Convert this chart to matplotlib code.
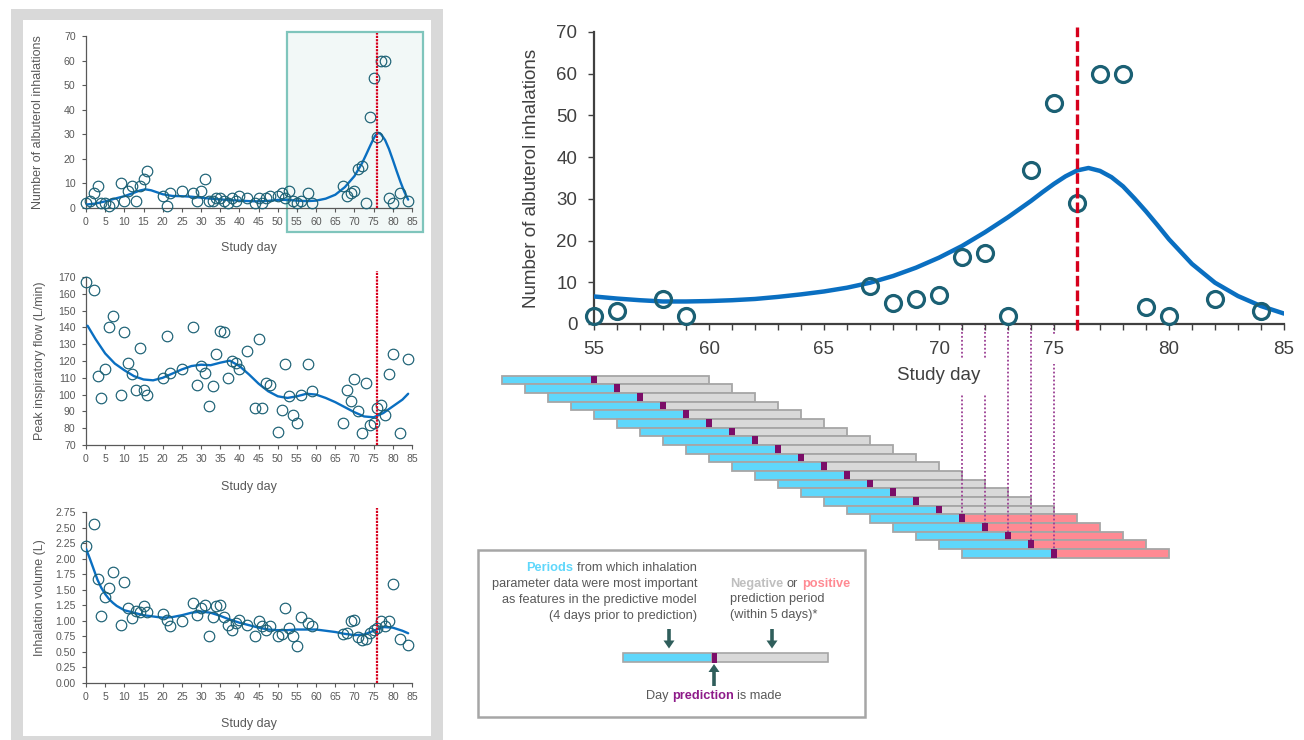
import numpy as np
import matplotlib
matplotlib.use("Agg")
import matplotlib.pyplot as plt
from matplotlib.patches import Rectangle, FancyArrow
from matplotlib.offsetbox import TextArea, HPacker, AnnotationBbox
from matplotlib.ticker import MultipleLocator, FormatStrFormatter

plt.rcParams['font.family'] = ['Liberation Sans', 'DejaVu Sans']

# ---------------- data ----------------
alb_days = [0, 1, 2, 3, 4, 5, 6, 7, 9, 10, 11, 12, 13, 14, 15, 16, 20, 21, 22, 25,
            28, 29, 30, 31, 32, 33, 34, 35, 36, 37, 38, 39, 40, 42, 44, 45, 46, 47, 48,
            50, 51, 52, 53, 54, 55, 56, 58, 59, 67, 68, 69, 70, 71, 72, 73, 74, 75, 76,
            77, 78, 79, 80, 82, 84]
alb_vals = [2, 3, 6, 9, 2, 2, 1, 2, 10, 3, 7, 9, 3, 9, 12, 15, 5, 1, 6, 7,
            6, 3, 7, 12, 3, 3, 4, 4, 3, 2, 4, 3, 5, 4, 2, 4, 2, 4, 5,
            5, 6, 4, 7, 3, 2, 3, 6, 2, 9, 5, 6, 7, 16, 17, 2, 37, 53, 29,
            60, 60, 4, 2, 6, 3]
alb_trend_days = [0, 2.5, 5, 7.5, 10, 12.5, 14, 15.5, 17, 18.5, 20, 22.5, 25, 27.5, 30,
                  32.5, 35, 37.5, 40, 42.5, 45, 47.5, 50, 52.5, 55, 57.5, 60, 62.5, 65,
                  67.5, 70, 72, 73, 74, 75, 75.5, 76, 76.5, 77, 78, 79, 80, 81, 82, 83, 84]
alb_trend_vals = [1.4, 1.8, 2.7, 3.8, 4.8, 6.2, 7.1, 7.6, 7.2, 6.4, 5.6, 4.9, 4.8, 4.6,
                  4.2, 3.8, 3.5, 3.2, 3.0, 2.8, 2.7, 2.9, 3.3, 3.3, 3.0, 2.8, 3.0, 3.8,
                  5.4, 8.5, 13.0, 18.3, 21.6, 25.0, 28.3, 29.6, 30.4, 30.5, 29.9, 27.6,
                  24.0, 19.6, 15.0, 10.6, 6.6, 3.4]

pif_days = [0, 2, 3, 4, 5, 6, 7, 9, 10, 11, 12, 13, 14, 15, 16, 20, 21, 22, 25,
            28, 29, 30, 31, 32, 33, 34, 35, 36, 37, 38, 39, 40, 42, 44, 45, 46, 47, 48,
            50, 51, 52, 53, 54, 55, 56, 58, 59, 67, 68, 69, 70, 71, 72, 73, 74, 75, 76,
            77, 78, 79, 80, 82, 84]
pif_vals = [167, 162, 111, 98, 115, 140, 147, 100, 137, 119, 112, 103, 128, 103, 100,
            110, 135, 113, 115, 140, 106, 117, 113, 93, 105, 124, 138, 137, 110, 120, 119,
            115, 126, 92, 133, 92, 107, 106, 78, 91, 118, 99, 88, 83, 100, 118, 102,
            83, 103, 96, 109, 90, 77, 107, 82, 83, 92, 94, 88, 112, 124, 77, 121]
pif_trend_days = [0.4, 2.5, 5, 7.5, 10, 12.5, 15, 17.5, 20, 22.5, 25, 27.5, 30, 32.5, 35,
                  37.5, 40, 42.5, 45, 47.5, 50, 52.5, 55, 57.5, 60, 62.5, 65, 67.5, 70,
                  72.5, 75, 77.5, 80, 82.5, 84]
pif_trend_vals = [141, 133, 124.5, 118.5, 114.5, 111, 109, 108.5, 110, 112.5, 115, 117,
                  117.8, 117.5, 119, 120.2, 117, 112, 106.5, 102, 99, 98, 99, 100.5, 100,
                  98, 95.5, 92.5, 89.5, 87, 86.5, 89, 93, 97, 100.5]

vol_days = pif_days
vol_vals = [2.20, 2.55, 1.68, 1.08, 1.38, 1.53, 1.78, 0.93, 1.63, 1.20, 1.04, 1.16, 1.14,
            1.24, 1.14, 1.11, 1.01, 0.91, 0.99, 1.29, 1.09, 1.21, 1.26, 0.76, 1.06, 1.24,
            1.26, 1.06, 0.94, 0.86, 0.97, 1.01, 0.94, 0.76, 0.99, 0.91, 0.86, 0.91, 0.76,
            0.78, 1.21, 0.89, 0.76, 0.59, 1.06, 0.97, 0.91, 0.79, 0.81, 0.99, 1.01, 0.74,
            0.69, 0.71, 0.81, 0.86, 0.89, 0.99, 0.91, 0.99, 1.59, 0.71, 0.61]
vol_trend_days = [0, 1, 2, 3, 4, 5, 6, 7, 8, 10, 12.5, 15, 17.5, 20, 22.5, 25, 27.5, 30,
                  32.5, 35, 37.5, 40, 42.5, 45, 47.5, 50, 52.5, 55, 57.5, 60, 62.5, 65,
                  67.5, 70, 72.5, 75, 77.5, 80, 82.5, 84]
vol_trend_vals = [2.16, 2.00, 1.83, 1.66, 1.53, 1.43, 1.35, 1.29, 1.24, 1.17, 1.13, 1.09,
                  1.07, 1.05, 1.06, 1.09, 1.13, 1.15, 1.13, 1.08, 1.02, 0.97, 0.93, 0.89,
                  0.86, 0.85, 0.85, 0.86, 0.86, 0.86, 0.84, 0.82, 0.79, 0.77, 0.78, 0.84,
                  0.90, 0.89, 0.84, 0.80]

zoom_trend_days = [55, 56, 57, 58, 59, 60, 61, 62, 63, 64, 65, 66, 67, 68, 69, 70, 71, 72,
                   73, 74, 74.5, 75, 75.5, 76, 76.5, 77, 77.5, 78, 78.5, 79, 79.5, 80,
                   81, 82, 83, 84, 85]
zoom_trend_vals = [6.6, 6.1, 5.7, 5.4, 5.4, 5.5, 5.7, 6.0, 6.5, 7.1, 7.8, 8.7, 9.9, 11.5,
                   13.5, 15.9, 18.7, 22.0, 25.6, 29.5, 31.6, 33.6, 35.4, 36.8, 37.4, 36.7,
                   35.2, 33.0, 30.1, 27.0, 23.7, 20.3, 14.4, 9.9, 6.7, 4.3, 2.5]

event_day = 76
zoom_start = 55
pred_days = list(range(55, 76))
pred_outcome = ['negative'] * 16 + ['positive'] * 5
lookback_days = 4
horizon_days = 5

# ---------------- style ----------------
W, H = 1304, 740
CIRC = '#1b6074'
TREND = '#0a6fc1'
RED = '#d6001c'
CYAN = '#5fd7fb'
LGRAY = '#d9d9d9'
PINK = '#ff8a93'
PURPLE = '#7b0e68'
EDGE = '#a6a6a6'
TXT = '#595959'
DARK = '#404040'
ARROW = '#2f5e5b'

fig = plt.figure(figsize=(W / 100, H / 100), dpi=100, facecolor='white')


def px_axes(x0, y0, x1, y1, **kw):
    return fig.add_axes([x0 / W, 1 - y1 / H, (x1 - x0) / W, (y1 - y0) / H], **kw)


# background / overlay axes in pixel units
ax_bg = fig.add_axes([0, 0, 1, 1], zorder=-1)
ax_bg.set_xlim(0, W)
ax_bg.set_ylim(H, 0)
ax_bg.axis('off')
ax_bg.add_patch(Rectangle((11, 9), 432, 735, facecolor='#d9d9d9', edgecolor='none'))
ax_bg.add_patch(Rectangle((23, 20), 408, 716, facecolor='white', edgecolor='none'))


# ---------------- small panels ----------------
def small_panel(top, bot, ylim, ystep, yfmt, ylabel, days, vals, tdays, tvals,
                red_top, xlab_y, ylab_x):
    ax = px_axes(86, top, 412, bot)
    ax.set_xlim(0, 85)
    ax.set_ylim(*ylim)
    ax.xaxis.set_major_locator(MultipleLocator(5))
    ax.yaxis.set_major_locator(MultipleLocator(ystep))
    ax.yaxis.set_major_formatter(FormatStrFormatter(yfmt))
    for s in ['top', 'right']:
        ax.spines[s].set_visible(False)
    for s in ['left', 'bottom']:
        ax.spines[s].set_color(TXT)
        ax.spines[s].set_linewidth(0.9)
    ax.tick_params(direction='out', length=3, width=0.8, color=TXT, labelcolor=TXT,
                   labelsize=7.6)
    ax.tick_params(axis='x', pad=3.5)
    ax.tick_params(axis='y', pad=4.5)
    ax.plot(tdays, tvals, color=TREND, lw=1.7, zorder=3, solid_capstyle='round',
            solid_joinstyle='round')
    ax.plot(days, vals, 'o', mfc='none', mec=CIRC, ms=7.6, mew=0.85, zorder=4,
            clip_on=False)
    ax.plot([event_day, event_day], [ylim[0], red_top], color=RED, lw=1.6,
            ls=(0, (1, 0.5)), zorder=5, clip_on=False)
    ax.set_xlabel('Study day', fontsize=9, color=TXT)
    ax.set_ylabel(ylabel, fontsize=9, color=TXT)
    ax.xaxis.label.set_va('center')
    ax.yaxis.label.set_va('center')
    ax.yaxis.label.set_ha('center')
    h = bot - top
    ax.xaxis.set_label_coords(0.5, (bot - xlab_y) / h)
    ax.yaxis.set_label_coords((ylab_x - 86) / 326, 0.5)
    return ax


ax1 = small_panel(36, 208, (0, 70), 10, '%d', 'Number of albuterol inhalations',
                  alb_days, alb_vals, alb_trend_days, alb_trend_vals, 71.2, 248, 38)
ax1.add_patch(Rectangle((52.4, -9.8), 35.5, 81.4, facecolor='#f2f8f7',
                        edgecolor='#7fc5bc', lw=1.6, clip_on=False, zorder=0.5))

ax2 = small_panel(277, 445, (70, 170), 10, '%d', 'Peak inspiratory flow (L/min)',
                  pif_days, pif_vals, pif_trend_days, pif_trend_vals, 173.5, 487, 40)
ax3 = small_panel(512, 683, (0, 2.75), 0.25, '%.2f', 'Inhalation volume (L)',
                  vol_days, vol_vals, vol_trend_days, vol_trend_vals, 2.81, 724, 40)

# ---------------- main zoomed panel ----------------
M_L, M_R, M_T, M_B = 594, 1284, 32, 324
axm = px_axes(M_L, M_T, M_R, M_B, zorder=3)
axm.set_xlim(55, 85)
axm.set_ylim(0, 70)
axm.xaxis.set_major_locator(MultipleLocator(5))
axm.xaxis.set_minor_locator(MultipleLocator(1))
axm.yaxis.set_major_locator(MultipleLocator(10))
for s in ['top', 'right']:
    axm.spines[s].set_visible(False)
for s in ['left', 'bottom']:
    axm.spines[s].set_color(DARK)
    axm.spines[s].set_linewidth(1.6)
axm.tick_params(which='both', direction='out', length=4, width=1.0, color=DARK,
                labelcolor=DARK, labelsize=13.5)
axm.tick_params(axis='x', pad=8)
axm.tick_params(axis='y', pad=8)

zd = [d for d in alb_days if d >= zoom_start]
zv = [v for d, v in zip(alb_days, alb_vals) if d >= zoom_start]
axm.plot(zoom_trend_days, zoom_trend_vals, color=TREND, lw=3.2, zorder=3,
         solid_capstyle='round', solid_joinstyle='round')
axm.plot(zd, zv, 'o', mfc='none', mec=CIRC, ms=11.5, mew=2.3, zorder=4, clip_on=False)
axm.plot([event_day, event_day], [-1.4, 71.3], color=RED, lw=2.4, ls=(0, (3.2, 1.2)),
         zorder=5, clip_on=False)
axm.set_xlabel('Study day', fontsize=13.5, color=DARK,
               bbox=dict(facecolor='white', edgecolor='none', boxstyle='square,pad=0.5'))
axm.set_ylabel('Number of albuterol inhalations', fontsize=13.5, color=DARK)
axm.xaxis.label.set_va('center')
axm.yaxis.label.set_va('center')
axm.yaxis.label.set_ha('center')
axm.xaxis.set_label_coords(0.5, (M_B - 376) / (M_B - M_T))
axm.yaxis.set_label_coords((531 - M_L) / (M_R - M_L), 0.5)
for lbl in axm.get_xticklabels():
    lbl.set_bbox(dict(facecolor='white', edgecolor='none', boxstyle='square,pad=0.35'))

# ---------------- prediction window bars ----------------
px_per_day = (M_R - M_L) / 30.0
ROW0, ROWH = 380.0, 8.667
B_L, B_R, B_T, B_B = 490, 1180, 370, 562
axb = px_axes(B_L, B_T, B_R, B_B, zorder=2)
axb.patch.set_visible(False)
axb.axis('off')
axb.set_xlim(55 + (B_L - M_L) / px_per_day, 55 + (B_R - M_L) / px_per_day)
axb.set_ylim((B_B - ROW0) / ROWH, (B_T - ROW0) / ROWH)

for i, (d, outc) in enumerate(zip(pred_days, pred_outcome)):
    axb.barh(i, lookback_days, left=d - lookback_days, height=1.0, color=CYAN,
             edgecolor=EDGE, lw=1.3, zorder=2 + i * 0.01)
    axb.barh(i, horizon_days, left=d, height=1.0,
             color=PINK if outc == 'positive' else LGRAY,
             edgecolor=EDGE, lw=1.3, zorder=2 + i * 0.01)
    axb.barh(i, 0.22, left=d - 0.11, height=1.0, color=PURPLE, lw=0,
             zorder=2.005 + i * 0.01)

axis_y = (M_B - ROW0) / ROWH
for i, (d, outc) in enumerate(zip(pred_days, pred_outcome)):
    if outc == 'positive':
        axb.plot([d, d], [axis_y, i - 0.5], color='#9b3f93', lw=1.3,
                 ls=(0, (1, 1.2)), clip_on=False, zorder=5)

# ---------------- legend box ----------------
ax_bg.add_patch(Rectangle((478, 550), 387, 167, facecolor='white', edgecolor=EDGE, lw=1.8))
FS = 9.2


def color_line(parts, xy, align):
    boxes = [TextArea(t, textprops=dict(color=c, fontsize=FS, fontweight=w))
             for t, c, w in parts]
    pack = HPacker(children=boxes, align='baseline', pad=0, sep=2.6)
    ab = AnnotationBbox(pack, xy, xycoords='data', box_alignment=align,
                        frameon=False, pad=0)
    ax_bg.add_artist(ab)


color_line([('Periods', CYAN, 'bold'), ('from which inhalation', TXT, 'normal')],
           (697, 568), (1, 0.5))
ax_bg.text(697, 584, 'parameter data were most important', ha='right', va='center',
           fontsize=FS, color=TXT)
ax_bg.text(697, 600, 'as features in the predictive model', ha='right', va='center',
           fontsize=FS, color=TXT)
ax_bg.text(697, 616, '(4 days prior to prediction)', ha='right', va='center',
           fontsize=FS, color=TXT)

color_line([('Negative', '#bfbfbf', 'bold'), ('or', TXT, 'normal'),
            ('positive', PINK, 'bold')], (730, 584), (0, 0.5))
ax_bg.text(730, 599, 'prediction period', ha='left', va='center', fontsize=FS, color=TXT)
ax_bg.text(730, 615, '(within 5 days)*', ha='left', va='center', fontsize=FS, color=TXT)

# key bar
ax_bg.add_patch(Rectangle((623, 653), 89, 9, facecolor=CYAN, edgecolor=EDGE, lw=1.2))
ax_bg.add_patch(Rectangle((712, 653), 116, 9, facecolor=LGRAY, edgecolor=EDGE, lw=1.2))
ax_bg.add_patch(Rectangle((711.5, 652.5), 5.5, 10, facecolor=PURPLE, edgecolor='none'))

for ax_x in (669, 772):
    ax_bg.add_patch(FancyArrow(ax_x, 629, 0, 19.5, width=3.6, head_width=11,
                               head_length=8, length_includes_head=True,
                               color=ARROW, lw=0))
ax_bg.add_patch(FancyArrow(714, 686, 0, -22, width=3.6, head_width=11, head_length=8,
                           length_includes_head=True, color=ARROW, lw=0))

color_line([('Day', TXT, 'normal'), ('prediction', '#8e1b89', 'bold'),
            ('is made', TXT, 'normal')], (714, 696), (0.5, 0.5))

fig.savefig('out.png', dpi=100, facecolor='white')
